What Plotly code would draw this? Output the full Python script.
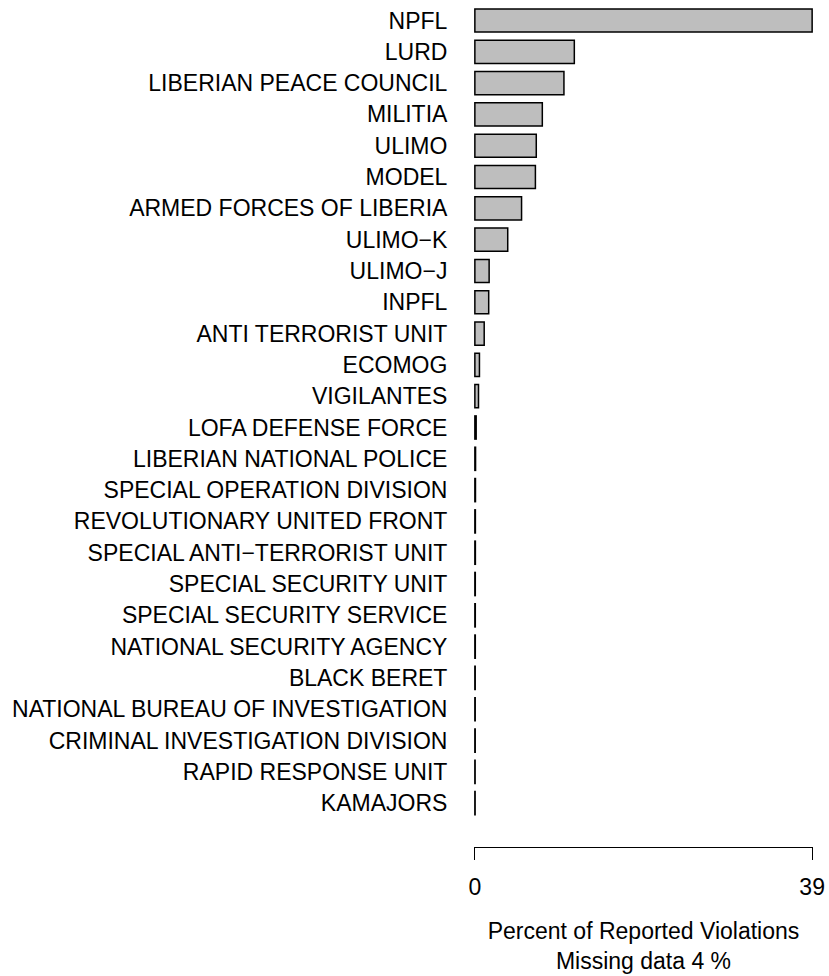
import plotly.graph_objects as go

groups = [
    "NPFL", "LURD", "LIBERIAN PEACE COUNCIL", "MILITIA", "ULIMO", "MODEL",
    "ARMED FORCES OF LIBERIA", "ULIMO\u2212K", "ULIMO\u2212J", "INPFL",
    "ANTI TERRORIST UNIT", "ECOMOG", "VIGILANTES", "LOFA DEFENSE FORCE",
    "LIBERIAN NATIONAL POLICE", "SPECIAL OPERATION DIVISION",
    "REVOLUTIONARY UNITED FRONT", "SPECIAL ANTI\u2212TERRORIST UNIT",
    "SPECIAL SECURITY UNIT", "SPECIAL SECURITY SERVICE",
    "NATIONAL SECURITY AGENCY", "BLACK BERET",
    "NATIONAL BUREAU OF INVESTIGATION", "CRIMINAL INVESTIGATION DIVISION",
    "RAPID RESPONSE UNIT", "KAMAJORS",
]
percent = [
    39.0, 11.5, 10.3, 7.8, 7.1, 7.0, 5.4, 3.8, 1.65, 1.6,
    1.08, 0.53, 0.42, 0.15, 0.08, 0.07, 0.06, 0.06, 0.05, 0.05,
    0.05, 0.04, 0.04, 0.04, 0.03, 0.03,
]
x_ticks = [0, 39]
x_title = "Percent of Reported Violations<br>Missing data 4 %"

FONT = "Liberation Sans, Arial, sans-serif"

fig = go.Figure(go.Bar(
    x=percent, y=groups, orientation="h",
    marker=dict(color="#BEBEBE", line=dict(color="black", width=1.5)),
    width=0.74,
))

fig.update_layout(
    width=829, height=976,
    margin=dict(l=474, r=16, t=0, b=129),
    paper_bgcolor="white", plot_bgcolor="white",
    font=dict(family=FONT, size=23, color="black"),
    showlegend=False,
)
fig.update_xaxes(
    range=[-0.1, 39.1], tickvals=x_ticks, ticktext=[str(v) for v in x_ticks],
    showgrid=False, zeroline=False, showline=True, linecolor="black", linewidth=1,
    ticks="outside", ticklen=12, tickcolor="black", tickwidth=1,
    ticklabelstandoff=7,
    title=dict(text=x_title, standoff=24, font=dict(size=23)),
)
fig.update_yaxes(
    type="category", categoryorder="array", categoryarray=groups,
    range=[26.4, -0.655], showgrid=False, zeroline=False, showline=False,
    ticks="outside", ticklen=21, tickcolor="rgba(0,0,0,0)",
)

fig.write_html(
    "out.html",
    config={"displayModeBar": False},
    post_script="document.body.style.margin='0';document.body.style.overflow='hidden';",
)
